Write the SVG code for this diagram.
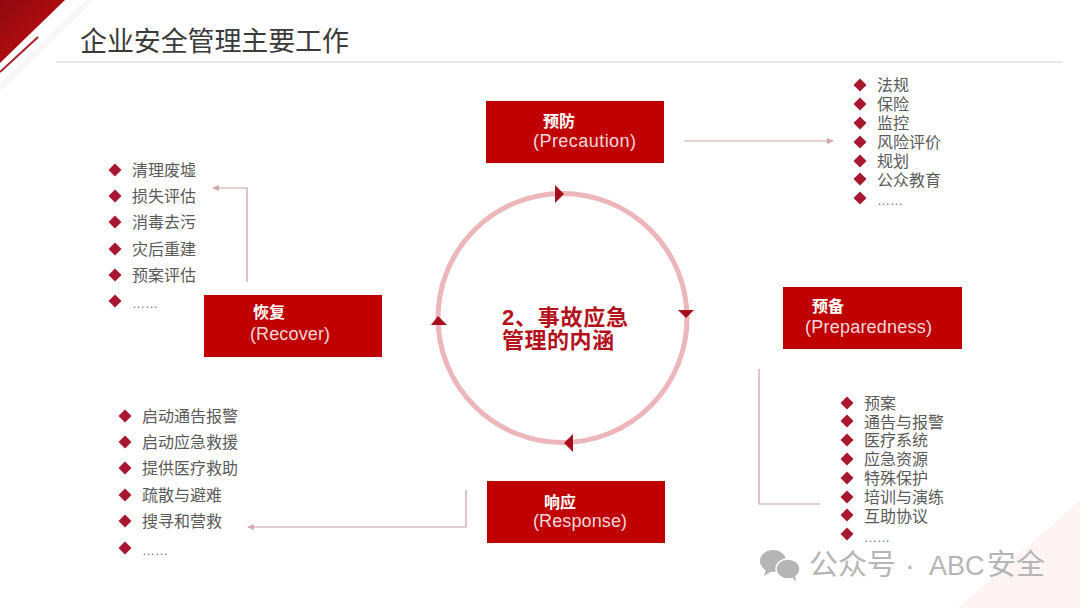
<svg xmlns="http://www.w3.org/2000/svg" width="1080" height="608" viewBox="0 0 1080 608">
<defs>
<linearGradient id="corner" x1="0" y1="0" x2="1" y2="1"><stop offset="0" stop-color="#8f0a10"/><stop offset="1" stop-color="#c80d10"/></linearGradient>
<marker id="arr" markerWidth="8" markerHeight="8" refX="6" refY="3" orient="auto" markerUnits="userSpaceOnUse"><path d="M0,0L7,3L0,6Z" fill="#d9a5aa"/></marker>
<path id="d" d="M0,-6.500L6.500,0L0,6.500L-6.500,0Z" fill="#a8162f"/>
</defs>
<style>
text{font-family:"Liberation Sans","Noto Sans CJK SC",sans-serif}
.l{font-size:16px;fill:#5a5a5a}
.dot{font-size:13px;fill:#777}
.t{fill:#fff;font-size:16px;font-weight:700}
.s{fill:#f3d8d8;font-size:18px}
.box{fill:#c00000}
.c{fill:none;stroke:#c9a0a3;stroke-width:1.200}
</style>
<rect width="1080" height="608" fill="#fff"/>
<g id="decor">
<path d="M0,0H65L0,63Z" fill="url(#corner)"/>
<path d="M0,72L38,37" fill="none" stroke="#a8202a" stroke-width="2"/>
<path d="M0,88L90,0" fill="none" stroke="#f8f6f6" stroke-width="6"/>
<path d="M958,608L1080,500V608Z" fill="#fdf4f3"/>
<path d="M56,62H1062" stroke="#d4d4d4" stroke-width="1.200"/>
<text x="80" y="51" font-size="27" fill="#3a3a3a" textLength="269">企业安全管理主要工作</text>
</g>
<g id="connectors">
<path class="c" d="M684,141H833" marker-end="url(#arr)"/>
<path class="c" d="M247,282V188H213" marker-end="url(#arr)"/>
<path class="c" d="M759,369V504H820"/>
<path class="c" d="M466,490V527H248" marker-end="url(#arr)"/>
</g>
<g id="cycle">
<circle cx="562.500" cy="318" r="124.500" fill="none" stroke="#ecb6ba" stroke-width="5"/>
<path d="M555,185L564,194L555,203Z" fill="#a80f1c"/>
<path d="M678,310H694L686,318Z" fill="#a80f1c"/>
<path d="M573,434V452L564,443Z" fill="#a80f1c"/>
<path d="M431,325H447L438,316Z" fill="#a80f1c"/>
<text x="502" y="325" font-size="22" font-weight="700" fill="#b3121d" textLength="126">2、事故应急</text>
<text x="502" y="348" font-size="22" font-weight="700" fill="#b3121d" textLength="112">管理的内涵</text>
</g>
<g id="precaution"><rect class="box" x="486" y="101" width="178" height="62"/><text class="t" x="543" y="127">预防</text><text class="s" x="533" y="147" textLength="103">(Precaution)</text></g>
<g id="preparedness"><rect class="box" x="783" y="287" width="179" height="62"/><text class="t" x="812" y="312">预备</text><text class="s" x="805" y="333" textLength="127">(Preparedness)</text></g>
<g id="response"><rect class="box" x="487" y="481" width="178" height="62"/><text class="t" x="544" y="508">响应</text><text class="s" x="533" y="527" textLength="94">(Response)</text></g>
<g id="recover"><rect class="box" x="204" y="295" width="178" height="62"/><text class="t" x="253" y="318">恢复</text><text class="s" x="250" y="340" textLength="80">(Recover)</text></g>
<g id="list-precaution">
<use href="#d" x="860" y="85"/><text class="l" x="877" y="91">法规</text>
<use href="#d" x="860" y="104"/><text class="l" x="877" y="110">保险</text>
<use href="#d" x="860" y="123"/><text class="l" x="877" y="129">监控</text>
<use href="#d" x="860" y="142"/><text class="l" x="877" y="148">风险评价</text>
<use href="#d" x="860" y="161"/><text class="l" x="877" y="167">规划</text>
<use href="#d" x="860" y="179"/><text class="l" x="877" y="186">公众教育</text>
<use href="#d" x="860" y="198"/><text class="dot" x="877" y="205">……</text>
</g>
<g id="list-recover">
<use href="#d" x="115" y="170"/><text class="l" x="132" y="176">清理废墟</text>
<use href="#d" x="115" y="196"/><text class="l" x="132" y="202">损失评估</text>
<use href="#d" x="115" y="222"/><text class="l" x="132" y="228">消毒去污</text>
<use href="#d" x="115" y="249"/><text class="l" x="132" y="255">灾后重建</text>
<use href="#d" x="115" y="275"/><text class="l" x="132" y="281">预案评估</text>
<use href="#d" x="115" y="301"/><text class="dot" x="132" y="308">……</text>
</g>
<g id="list-response">
<use href="#d" x="125" y="416"/><text class="l" x="142" y="422">启动通告报警</text>
<use href="#d" x="125" y="442"/><text class="l" x="142" y="448">启动应急救援</text>
<use href="#d" x="125" y="468"/><text class="l" x="142" y="474">提供医疗救助</text>
<use href="#d" x="125" y="495"/><text class="l" x="142" y="501">疏散与避难</text>
<use href="#d" x="125" y="521"/><text class="l" x="142" y="527">搜寻和营救</text>
<use href="#d" x="125" y="548"/><text class="dot" x="142" y="555">……</text>
</g>
<g id="list-preparedness">
<use href="#d" x="847" y="403"/><text class="l" x="864" y="409">预案</text>
<use href="#d" x="847" y="421"/><text class="l" x="864" y="428">通告与报警</text>
<use href="#d" x="847" y="440"/><text class="l" x="864" y="446">医疗系统</text>
<use href="#d" x="847" y="459"/><text class="l" x="864" y="465">应急资源</text>
<use href="#d" x="847" y="478"/><text class="l" x="864" y="484">特殊保护</text>
<use href="#d" x="847" y="497"/><text class="l" x="864" y="503">培训与演练</text>
<use href="#d" x="847" y="515"/><text class="l" x="864" y="522">互助协议</text>
<use href="#d" x="847" y="534"/><text class="dot" x="864" y="542">……</text>
</g>
<g id="watermark">
<ellipse cx="773" cy="561" rx="13" ry="11" fill="#b5b5b5"/>
<path d="M766,569L764,576L772,571Z" fill="#b5b5b5"/>
<ellipse cx="788" cy="569" rx="12" ry="10" fill="#b5b5b5" stroke="#fff" stroke-width="1.500"/>
<path d="M792,577L796,582L795,575Z" fill="#b5b5b5"/>
<text y="575" font-size="29" fill="#b5b5b5"><tspan x="809">公众号</tspan><tspan x="905">·</tspan><tspan x="929" font-size="27">ABC</tspan><tspan x="987">安全</tspan></text>
</g>
</svg>
